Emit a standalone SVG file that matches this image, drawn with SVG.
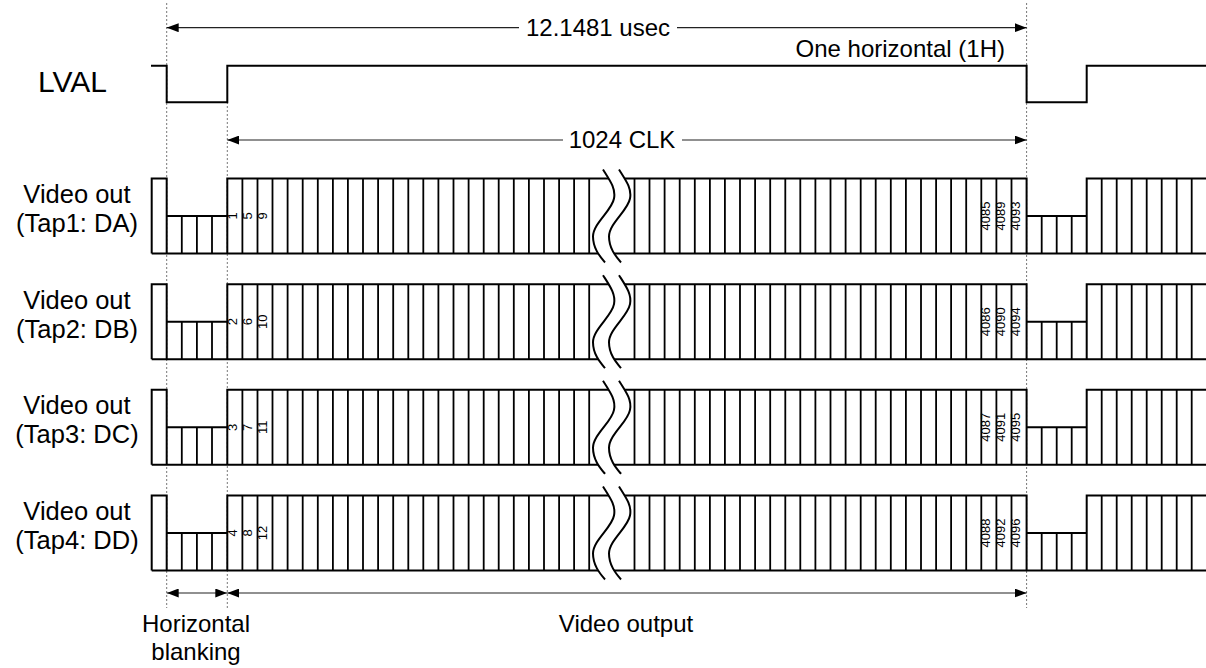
<svg xmlns="http://www.w3.org/2000/svg" xmlns:xlink="http://www.w3.org/1999/xlink" width="1206" height="668" viewBox="0 0 1206 668">
<style>
.wave{fill:none;stroke:#000;stroke-width:2}
.tick{fill:none;stroke:#000;stroke-width:1.8}
.guide{fill:none;stroke:#777;stroke-width:1;stroke-dasharray:2,2}
.arr{fill:none;stroke:#222;stroke-width:1.2}
.lbl{font-family:"Liberation Sans",Arial,sans-serif;font-size:24px;fill:#000}
.row{font-family:"Liberation Sans",Arial,sans-serif;font-size:25.5px;fill:#000;text-anchor:middle}
.big{font-family:"Liberation Sans",Arial,sans-serif;font-size:30px;fill:#000}
.num{font-family:"Liberation Sans",Arial,sans-serif;font-size:13px;fill:#000;text-anchor:middle}
.mid{text-anchor:middle}
</style>
<defs>
<marker id="ah" markerUnits="userSpaceOnUse" markerWidth="12" markerHeight="9" viewBox="0 0 12 9" refX="12" refY="4.5" orient="auto-start-reverse"><path d="M0,0 L12,4.5 L0,9 Z" fill="#000"/></marker>
<g id="pulses">
<path class="wave" d="M151.7,75 V0 H166.7 V75 M166.7,37.5 H227.3 M227.3,75 V0 H1026.6 V75 M1026.6,37.5 H1086.7 M1086.7,75 V0 H1206 M151.7,75 H1206"/>
<path class="tick" d="M181.8,37.5V75 M196.9,37.5V75 M212,37.5V75 M1041.7,37.5V75 M1056.7,37.5V75 M1071.7,37.5V75
M242.4,0V75 M257.5,0V75 M272.5,0V75 M287.6,0V75 M302.7,0V75 M317.8,0V75 M332.9,0V75 M347.9,0V75 M363,0V75 M378.1,0V75 M393.2,0V75 M408.3,0V75 M423.3,0V75 M438.4,0V75 M453.5,0V75 M468.6,0V75 M483.7,0V75 M498.7,0V75 M513.8,0V75 M528.9,0V75 M544,0V75 M559.1,0V75 M574.1,0V75 M589.2,0V75
M634.5,0V75 M649.5,0V75 M664.6,0V75 M679.7,0V75 M694.8,0V75 M709.9,0V75 M724.9,0V75 M740,0V75 M755.1,0V75 M770.2,0V75 M785.3,0V75 M800.3,0V75 M815.4,0V75 M830.5,0V75 M845.6,0V75 M860.7,0V75 M875.7,0V75 M890.8,0V75 M905.9,0V75 M921,0V75 M936.1,0V75 M951.1,0V75 M966.2,0V75 M981.3,0V75 M996.4,0V75 M1011.5,0V75
M1101.7,0V75 M1116.7,0V75 M1131.7,0V75 M1146.7,0V75 M1161.7,0V75 M1176.7,0V75 M1191.7,0V75"/>
<path d="M603,-9 C610,2 616,10 614,20 C612,32 593,45 593,58 C593,70 600,78 605,84 L621,84 C616,78 609,70 609,58 C609,45 628,32 630,20 C632,10 626,2 619,-9 Z" fill="#fff" stroke="none"/>
<path class="wave" d="M603,-9 C610,2 616,10 614,20 C612,32 593,45 593,58 C593,70 600,78 605,84 M619,-9 C626,2 632,10 630,20 C628,32 609,45 609,58 C609,70 616,78 621,84"/>
</g>
</defs>

<g id="guides">
<line class="guide" x1="166.7" y1="3" x2="166.7" y2="608"/>
<line class="guide" x1="227.3" y1="102" x2="227.3" y2="608"/>
<line class="guide" x1="1026.6" y1="3" x2="1026.6" y2="608"/>
</g>

<g id="lval">
<text class="big" x="38" y="92">LVAL</text>
<path class="wave" d="M151,65.7 H166.7 V102.3 H227.3 V65.7 H1026.6 V102.3 H1086.7 V65.7 H1206"/>
</g>

<g id="tap1">
<text class="row" x="77" y="203">Video out</text>
<text class="row" x="77" y="232">(Tap1: DA)</text>
<use xlink:href="#pulses" href="#pulses" transform="translate(0,178.5)"/>
<text class="num" transform="translate(237,216) rotate(-90)">1</text>
<text class="num" transform="translate(252.3,216) rotate(-90)">5</text>
<text class="num" transform="translate(267.4,216) rotate(-90)">9</text>
<text class="num" transform="translate(990,216) rotate(-90)">4085</text>
<text class="num" transform="translate(1005,216) rotate(-90)">4089</text>
<text class="num" transform="translate(1020,216) rotate(-90)">4093</text>
</g>

<g id="tap2">
<text class="row" x="77" y="308.7">Video out</text>
<text class="row" x="77" y="337.7">(Tap2: DB)</text>
<use xlink:href="#pulses" href="#pulses" transform="translate(0,284.2)"/>
<text class="num" transform="translate(237,321.7) rotate(-90)">2</text>
<text class="num" transform="translate(252.3,321.7) rotate(-90)">6</text>
<text class="num" transform="translate(267.4,321.7) rotate(-90)">10</text>
<text class="num" transform="translate(990,321.7) rotate(-90)">4086</text>
<text class="num" transform="translate(1005,321.7) rotate(-90)">4090</text>
<text class="num" transform="translate(1020,321.7) rotate(-90)">4094</text>
</g>

<g id="tap3">
<text class="row" x="77" y="414.3">Video out</text>
<text class="row" x="77" y="443.3">(Tap3: DC)</text>
<use xlink:href="#pulses" href="#pulses" transform="translate(0,389.8)"/>
<text class="num" transform="translate(237,427.3) rotate(-90)">3</text>
<text class="num" transform="translate(252.3,427.3) rotate(-90)">7</text>
<text class="num" transform="translate(267.4,427.3) rotate(-90)">11</text>
<text class="num" transform="translate(990,427.3) rotate(-90)">4087</text>
<text class="num" transform="translate(1005,427.3) rotate(-90)">4091</text>
<text class="num" transform="translate(1020,427.3) rotate(-90)">4095</text>
</g>

<g id="tap4">
<text class="row" x="77" y="520">Video out</text>
<text class="row" x="77" y="549">(Tap4: DD)</text>
<use xlink:href="#pulses" href="#pulses" transform="translate(0,495.5)"/>
<text class="num" transform="translate(237,533) rotate(-90)">4</text>
<text class="num" transform="translate(252.3,533) rotate(-90)">8</text>
<text class="num" transform="translate(267.4,533) rotate(-90)">12</text>
<text class="num" transform="translate(990,533) rotate(-90)">4088</text>
<text class="num" transform="translate(1005,533) rotate(-90)">4092</text>
<text class="num" transform="translate(1020,533) rotate(-90)">4096</text>
</g>

<g id="connectors">
<line class="arr" x1="519" y1="27.7" x2="166.7" y2="27.7" marker-end="url(#ah)"/>
<line class="arr" x1="677" y1="27.7" x2="1026.6" y2="27.7" marker-end="url(#ah)"/>
<line class="arr" x1="563" y1="140" x2="227.3" y2="140" marker-end="url(#ah)"/>
<line class="arr" x1="682" y1="140" x2="1026.6" y2="140" marker-end="url(#ah)"/>
<line class="arr" x1="166.7" y1="593" x2="227.3" y2="593" marker-start="url(#ah)" marker-end="url(#ah)"/>
<line class="arr" x1="227.3" y1="593" x2="1026.6" y2="593" marker-start="url(#ah)" marker-end="url(#ah)"/>
</g>

<g id="labels">
<text class="lbl mid" x="598" y="36">12.1481 usec</text>
<text class="lbl" x="1005" y="57" text-anchor="end">One horizontal (1H)</text>
<text class="lbl mid" x="622" y="148">1024 CLK</text>
<text class="lbl mid" x="196" y="632">Horizontal</text>
<text class="lbl mid" x="196" y="660">blanking</text>
<text class="lbl mid" x="626" y="632">Video output</text>
</g>
</svg>
